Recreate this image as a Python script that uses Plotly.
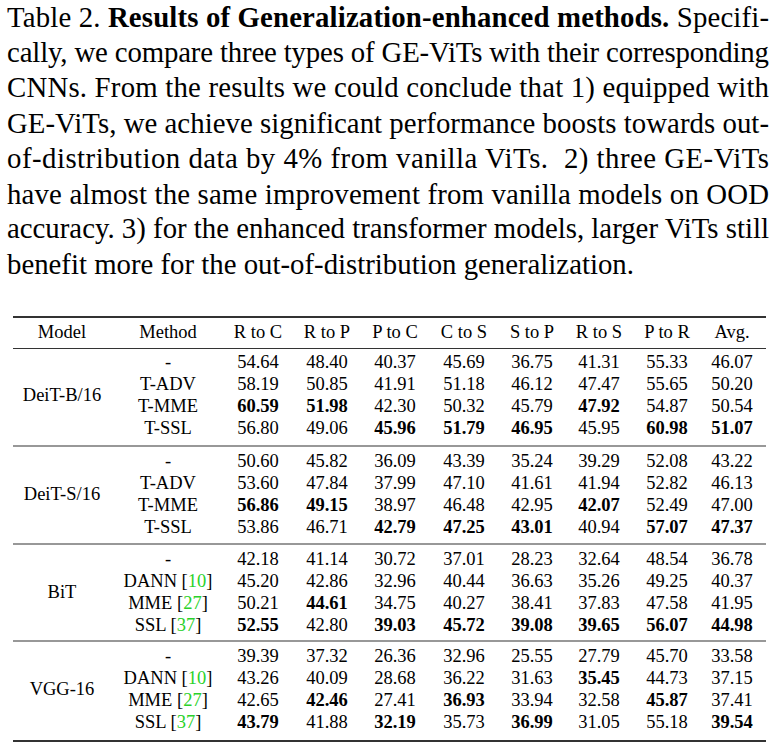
import plotly.graph_objects as go

# ---------------- data ----------------
caption_lines = [
    "Table 2. <b>Results of Generalization-enhanced methods.</b> Specifi-",
    "cally, we compare three types of GE-ViTs with their corresponding",
    "CNNs. From the results we could conclude that 1) equipped with",
    "GE-ViTs, we achieve significant performance boosts towards out-",
    "of-distribution data by 4% from vanilla ViTs.  2) three GE-ViTs",
    "have almost the same improvement from vanilla models on OOD",
    "accuracy. 3) for the enhanced transformer models, larger ViTs still",
    "benefit more for the out-of-distribution generalization.",
]

columns = ["Model", "Method", "R to C", "R to P", "P to C", "C to S",
           "S to P", "R to S", "P to R", "Avg."]

models = ["DeiT-B/16", "DeiT-S/16", "BiT", "VGG-16"]

methods_vit = ["-", "T-ADV", "T-MME", "T-SSL"]
methods_cnn = ["-", "DANN", "MME", "SSL"]
cites_cnn = [None, "10", "27", "37"]

deit_b16 = [
    [54.64, 48.40, 40.37, 45.69, 36.75, 41.31, 55.33, 46.07],
    [58.19, 50.85, 41.91, 51.18, 46.12, 47.47, 55.65, 50.20],
    [60.59, 51.98, 42.30, 50.32, 45.79, 47.92, 54.87, 50.54],
    [56.80, 49.06, 45.96, 51.79, 46.95, 45.95, 60.98, 51.07],
]
deit_s16 = [
    [50.60, 45.82, 36.09, 43.39, 35.24, 39.29, 52.08, 43.22],
    [53.60, 47.84, 37.99, 47.10, 41.61, 41.94, 52.82, 46.13],
    [56.86, 49.15, 38.97, 46.48, 42.95, 42.07, 52.49, 47.00],
    [53.86, 46.71, 42.79, 47.25, 43.01, 40.94, 57.07, 47.37],
]
bit = [
    [42.18, 41.14, 30.72, 37.01, 28.23, 32.64, 48.54, 36.78],
    [45.20, 42.86, 32.96, 40.44, 36.63, 35.26, 49.25, 40.37],
    [50.21, 44.61, 34.75, 40.27, 38.41, 37.83, 47.58, 41.95],
    [52.55, 42.80, 39.03, 45.72, 39.08, 39.65, 56.07, 44.98],
]
vgg16 = [
    [39.39, 37.32, 26.36, 32.96, 25.55, 27.79, 45.70, 33.58],
    [43.26, 40.09, 28.68, 36.22, 31.63, 35.45, 44.73, 37.15],
    [42.65, 42.46, 27.41, 36.93, 33.94, 32.58, 45.87, 37.41],
    [43.79, 41.88, 32.19, 35.73, 36.99, 31.05, 55.18, 39.54],
]
# row index (within each group) that is printed in bold, per column
bold_b16 = [2, 2, 3, 3, 3, 2, 3, 3]
bold_s16 = [2, 2, 3, 3, 3, 2, 3, 3]
bold_bit = [3, 2, 3, 3, 3, 3, 3, 3]
bold_vgg = [3, 2, 3, 2, 3, 1, 2, 3]

groups = [
    (models[0], methods_vit, [None] * 4, deit_b16, bold_b16),
    (models[1], methods_vit, [None] * 4, deit_s16, bold_s16),
    (models[2], methods_cnn, cites_cnn, bit, bold_bit),
    (models[3], methods_cnn, cites_cnn, vgg16, bold_vgg),
]

# ---------------- layout constants ----------------
W, H = 782, 745
FONT = "Liberation Serif, Times New Roman, serif"
INK = "#000000"
CITE = "#2ad12a"
TSIZE = 18.5
col_x = [62, 168, 258, 327, 395, 464, 532, 599, 667, 732]
header_y = 333
group_y0 = [363, 462, 560, 657]
row_step = 22.2
rule_x0, rule_x1 = 13, 766

fig = go.Figure()

fig.add_trace(go.Scatter(
    x=col_x, y=[header_y] * len(columns), text=columns, mode="text",
    textfont=dict(family=FONT, size=TSIZE, color=INK), hoverinfo="skip",
    showlegend=False))

for gi, (model, meths, cites, vals, bold) in enumerate(groups):
    y0 = group_y0[gi]
    ys = [y0 + r * row_step for r in range(4)]
    fig.add_trace(go.Scatter(
        x=[col_x[0]], y=[sum(ys) / 4], text=[model], mode="text",
        textfont=dict(family=FONT, size=TSIZE, color=INK), hoverinfo="skip",
        showlegend=False))
    mt = []
    for m, c in zip(meths, cites):
        if c is None:
            mt.append(m)
        else:
            mt.append(f"{m} [<span style='color:{CITE}'>{c}</span>]")
    fig.add_trace(go.Scatter(
        x=[col_x[1]] * 4, y=ys, text=mt, mode="text",
        textfont=dict(family=FONT, size=TSIZE, color=INK), hoverinfo="skip",
        showlegend=False))
    for ci in range(8):
        texts = []
        for r in range(4):
            s = f"{vals[r][ci]:.2f}"
            texts.append(f"<b>{s}</b>" if bold[ci] == r else s)
        fig.add_trace(go.Scatter(
            x=[col_x[ci + 2]] * 4, y=ys, text=texts, mode="text",
            textfont=dict(family=FONT, size=TSIZE, color=INK), hoverinfo="skip",
            showlegend=False))

rules = [(317, 2.0), (348.5, 1.1)]
for gy in group_y0[1:]:
    rules.append((gy - 16, 1.1))
rules.append((741, 2.0))
for ry, w in rules:
    fig.add_shape(type="line", xref="x", yref="y", x0=rule_x0, x1=rule_x1,
                  y0=ry, y1=ry, line=dict(color="#333333", width=w))

for i, line in enumerate(caption_lines):
    fig.add_annotation(
        x=5, y=17 + i * 35.3, xref="x", yref="y", text=line, showarrow=False,
        xanchor="left", yanchor="middle", align="left",
        font=dict(family=FONT, size=28.8, color=INK))

fig.update_xaxes(range=[0, W], visible=False, fixedrange=True)
fig.update_yaxes(range=[H, 0], visible=False, fixedrange=True)
fig.update_layout(
    width=W, height=H, margin=dict(l=0, r=0, t=0, b=0),
    plot_bgcolor="white", paper_bgcolor="white", hovermode=False,
)

# justify the first seven caption lines (full text width like the original)
justify_js = """
document.body.style.margin='0';
document.body.style.overflow='hidden';
var gd = document.getElementById('{plot_id}');
var t = gd.querySelectorAll('.annotation-text');
for (var i = 0; i < t.length && i < 7; i++) {
  t[i].setAttribute('textLength', '762');
  t[i].setAttribute('lengthAdjust', 'spacing');
}
"""

fig.write_html("out.html", post_script=justify_js,
               config={"displayModeBar": False, "staticPlot": True})
